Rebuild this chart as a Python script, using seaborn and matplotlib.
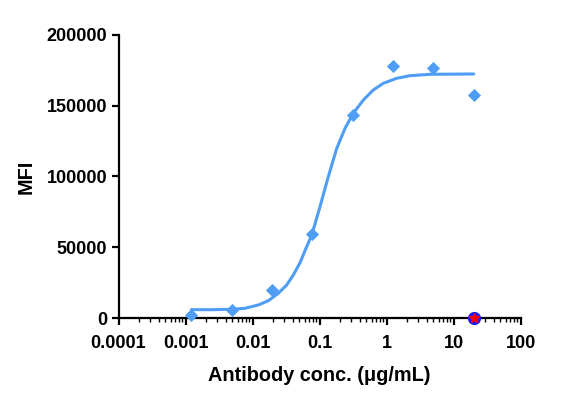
import matplotlib
matplotlib.use("Agg")
import matplotlib.pyplot as plt
import seaborn as sns
import numpy as np
import pandas as pd
from matplotlib.ticker import LogLocator, NullFormatter

# measured data
conc = [0.00122, 0.00488, 0.0195, 0.078, 0.3125, 1.25, 5.0, 20.0]
mfi = [2000, 5800, 19800, 59200, 143500, 177800, 176800, 157200]

# fitted curve
curve_x = [0.00122, 0.00246, 0.00489, 0.00773, 0.01222, 0.01722, 0.02427,
           0.03236, 0.04064, 0.05117, 0.0622, 0.0766, 0.1016, 0.1352, 0.1808,
           0.2404, 0.319, 0.451, 0.635, 0.895, 1.419, 2.243, 4.46, 20.0]
curve_y = [6065, 6065, 6347, 7052, 9380, 12410, 17630,
           23480, 30540, 39210, 48870, 58750, 78700, 99860, 119890,
           134000, 144570, 153950, 161000, 165730, 169250, 171090, 172070, 172300]

# control point
ctrl_x = [20.0]
ctrl_y = [0]

x_ticks = [0.0001, 0.001, 0.01, 0.1, 1, 10, 100]
x_tick_labels = ["0.0001", "0.001", "0.01", "0.1", "1", "10", "100"]
y_ticks = [0, 50000, 100000, 150000, 200000]

sns.set_theme(style="ticks")
plt.rcParams['font.family'] = ['Liberation Sans', 'DejaVu Sans']
plt.rcParams['font.weight'] = 'bold'
plt.rcParams['text.color'] = 'black'
plt.rcParams['axes.labelcolor'] = 'black'

blue = '#4f9df5'

fig = plt.figure(figsize=(5.79, 4.03), dpi=100)
ax = fig.add_axes([0.2047, 0.2102, 0.6943, 0.7037])

df_pts = pd.DataFrame({'conc': conc, 'mfi': mfi})
df_curve = pd.DataFrame({'x': curve_x, 'y': curve_y})

sns.lineplot(data=df_curve, x='x', y='y', ax=ax, color=blue, lw=2.2, sort=True,
             estimator=None, clip_on=False)
sns.scatterplot(data=df_pts, x='conc', y='mfi', ax=ax, marker='D', s=45,
                color=blue, edgecolor=blue, linewidth=0, clip_on=False, zorder=3)
ax.plot(ctrl_x, ctrl_y, 'o', ms=8.5, mfc='#1a1aff', mec='#1a1aff', clip_on=False, zorder=4)
ax.plot(ctrl_x, ctrl_y, '*', ms=7.5, mfc='red', mec='red', clip_on=False, zorder=5)

ax.set_xscale('log')
ax.set_xlim(0.0001, 100)
ax.set_ylim(0, 200000)
ax.set_xticks(x_ticks)
ax.set_xticklabels(x_tick_labels)
ax.xaxis.set_minor_locator(LogLocator(base=10, subs=np.arange(2, 10), numticks=20))
ax.xaxis.set_minor_formatter(NullFormatter())
ax.set_yticks(y_ticks)
ax.set_yticklabels([str(v) for v in y_ticks])

for s in ['top', 'right']:
    ax.spines[s].set_visible(False)
for s in ['left', 'bottom']:
    ax.spines[s].set_linewidth(1.6)
    ax.spines[s].set_color('black')

ax.tick_params(axis='both', which='major', length=5, width=1.6, labelsize=13,
               color='black', labelcolor='black', pad=3)
ax.tick_params(axis='x', which='major', pad=7)
ax.tick_params(axis='x', which='minor', length=3, width=1.0, color='black')
for lbl in ax.get_xticklabels() + ax.get_yticklabels():
    lbl.set_fontweight('bold')

ax.set_xlabel('Antibody conc. (μg/mL)', fontsize=14.3, fontweight='bold',
              labelpad=10, color='black')
ax.set_ylabel('MFI', fontsize=14.3, fontweight='bold', labelpad=8, color='black')
ax.grid(False)

fig.savefig('out.png', dpi=100)
